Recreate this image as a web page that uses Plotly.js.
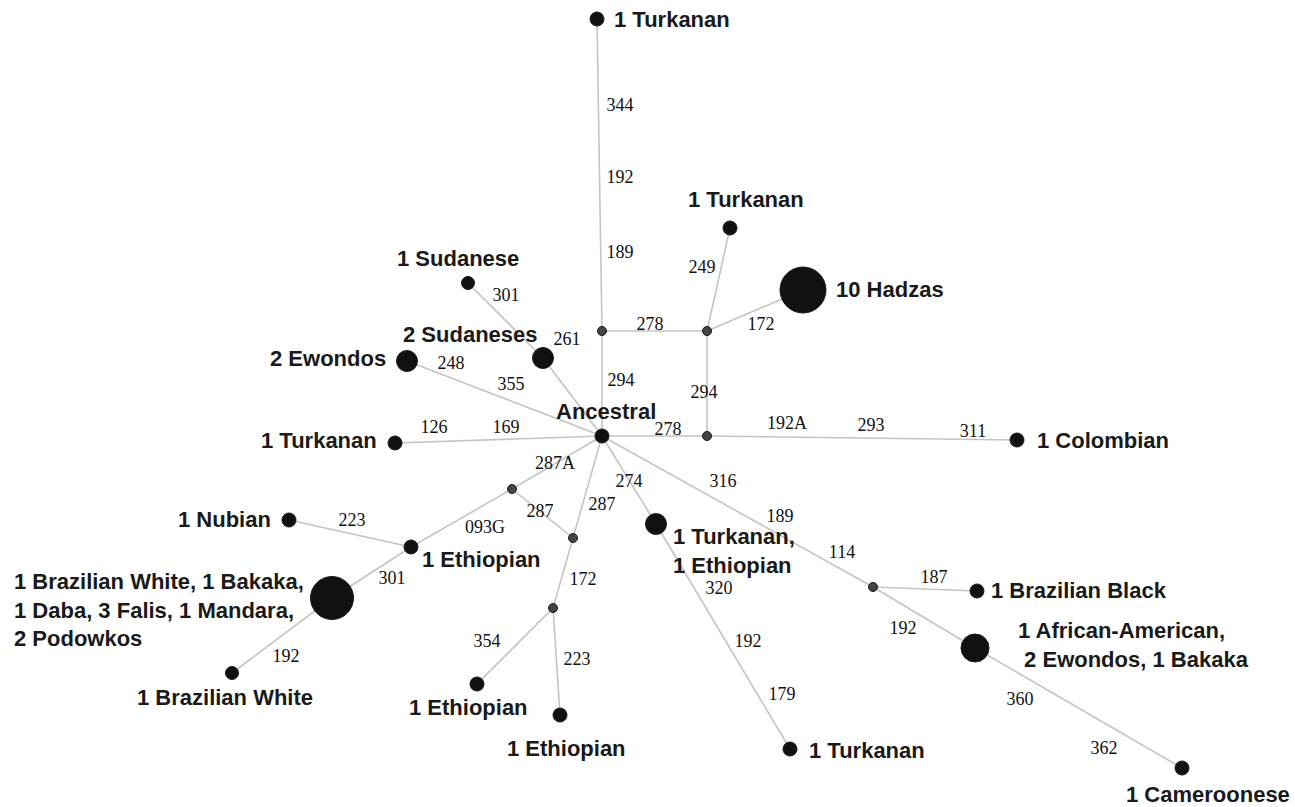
<!DOCTYPE html>
<html>
<head>
<meta charset="utf-8">
<script src="https://cdn.plot.ly/plotly-3.0.1.min.js"></script>
<style>html,body{margin:0;padding:0;background:#fff;}</style>
</head>
<body>
<div id="chart" style="width:1295px;height:807px;"></div>
<script>
// Nodes of the median-joining network
var nodeNames = ["Ancestral","TurkTop","JuncA","JuncB","TurkUR","Hadzas","Sudanese","Sudaneses","Ewondos","TurkLeft",
  "JuncC","Colombian","JuncD","JuncE","JuncF","Nubian","EthNode","BigNode","BrazWhite","Eth1","Eth2",
  "TurkEth","TurkBottom","JuncG","BrazBlack","AfrAm","Cameroonese"];
var nodeX = [602,597,602,707,730,803,468,543,407,395, 707,1017,512,573,553,289,411,332,232,477,560, 656,790,873,977,975,1182];
var nodeY = [436,19,331,331,228,290,283,358,361,443, 436,440,489,538,608,520,547,598,673,684,715, 524,749,587,591,648,768];
var nodeSize = [14,14,9,9,14,46,13,21,21,14, 9,14,9,9,9,14,14,43,13,14,14, 21,14,9,14,28,14];
var nodeIsMedian = [0,0,1,1,0,0,0,0,0,0, 1,0,1,1,1,0,0,0,0,0,0, 0,0,1,0,0,0];

// Edges (indices into nodes)
var edgeFrom = [0,2,2,3,3,3,0,10,0,7,0,0,0,12,0,12,16,16,17,13,14,14,0,21,0,23,23,25];
var edgeTo   = [2,1,3,4,5,10,10,11,7,6,8,9,12,13,13,16,15,17,18,14,19,20,21,22,23,24,25,26];

// Mutation labels along edges
var mutText = ["344","192","189","294","278","249","172","294","278","192A","293","311","261","301","248","355",
  "126","169","287A","287","287","093G","223","301","192","172","354","223","274","320","192","179",
  "316","189","114","187","192","360","362"];
var mutX = [620,620,620,621,650,702,761,704,668,787,871,973,567,506,451,511,
  434,506,555,540,602,485,352,392,286,583,487,577,629,719,748,782,
  723,780,842,934,903,1020,1104];
var mutY = [106,178,253,381,325,268,325,393,430,424,426,432,340,296,364,385,
  428,428,464,512,505,528,521,579,657,580,642,660,482,589,642,695,
  482,517,553,578,629,700,749];

// Haplotype labels
var hapText = ["1 Turkanan","1 Turkanan","10 Hadzas","1 Sudanese","2 Sudaneses","2 Ewondos","Ancestral","1 Turkanan",
  "1 Colombian","1 Nubian","1 Ethiopian","1 Brazilian White, 1 Bakaka,<br>1 Daba, 3 Falis, 1 Mandara,<br>2 Podowkos",
  "1 Brazilian White","1 Ethiopian","1 Ethiopian","1 Turkanan,<br>1 Ethiopian","1 Turkanan","1 Brazilian Black",
  "1 African-American,<br> 2 Ewondos, 1 Bakaka","1 Cameroonese"];
var hapX = [612,746,834,458,470,388,606,379, 1035,273,420,12, 225,468,566,671,807,989, 1016,1208];
var hapY = [19,199,289,258,334,358,411,440, 440,519,559,610, 697,707,748,551,750,590, 645,794];
var hapAnchor = ["left","center","left","center","center","right","center","right",
  "left","right","left","left","center","center","center","left","left","left","left","center"];

var ex = [], ey = [];
for (var i = 0; i < edgeFrom.length; i++) {
  ex.push(nodeX[edgeFrom[i]], nodeX[edgeTo[i]], null);
  ey.push(nodeY[edgeFrom[i]], nodeY[edgeTo[i]], null);
}

var traces = [
  {x: ex, y: ey, mode: "lines", type: "scatter", hoverinfo: "skip",
   line: {color: "#c4c4c4", width: 1.6}},
  {x: nodeX, y: nodeY, mode: "markers", type: "scatter", text: nodeNames, hoverinfo: "text",
   marker: {size: nodeSize, opacity: 1,
            color: nodeIsMedian.map(function(m){return m ? "#444444" : "#111111";}),
            line: {color: "#1a1a1a", width: 1}}},
  {x: mutX, y: mutY, mode: "text", type: "scatter", text: mutText, hoverinfo: "skip",
   textposition: "middle center",
   textfont: {family: "Liberation Serif, Times New Roman, serif", size: 18, color: "#111"}}
];

var annotations = hapText.map(function(t, i) {
  return {x: hapX[i], y: hapY[i], xref: "x", yref: "y",
          text: "<b>" + t.split("<br>").join("</b><br><b>") + "</b>", showarrow: false,
          xanchor: hapAnchor[i], yanchor: "middle", align: "left",
          font: {family: "Liberation Sans, Arial, sans-serif", size: 22, color: "#1a1a1a"}};
});

var layout = {
  width: 1295, height: 807,
  margin: {l: 0, r: 0, t: 0, b: 0},
  paper_bgcolor: "#ffffff", plot_bgcolor: "#ffffff",
  showlegend: false,
  xaxis: {range: [0, 1295], visible: false, fixedrange: true},
  yaxis: {range: [807, 0], visible: false, fixedrange: true},
  annotations: annotations
};

Plotly.newPlot("chart", traces, layout, {displayModeBar: false, staticPlot: true});
</script>
</body>
</html>
